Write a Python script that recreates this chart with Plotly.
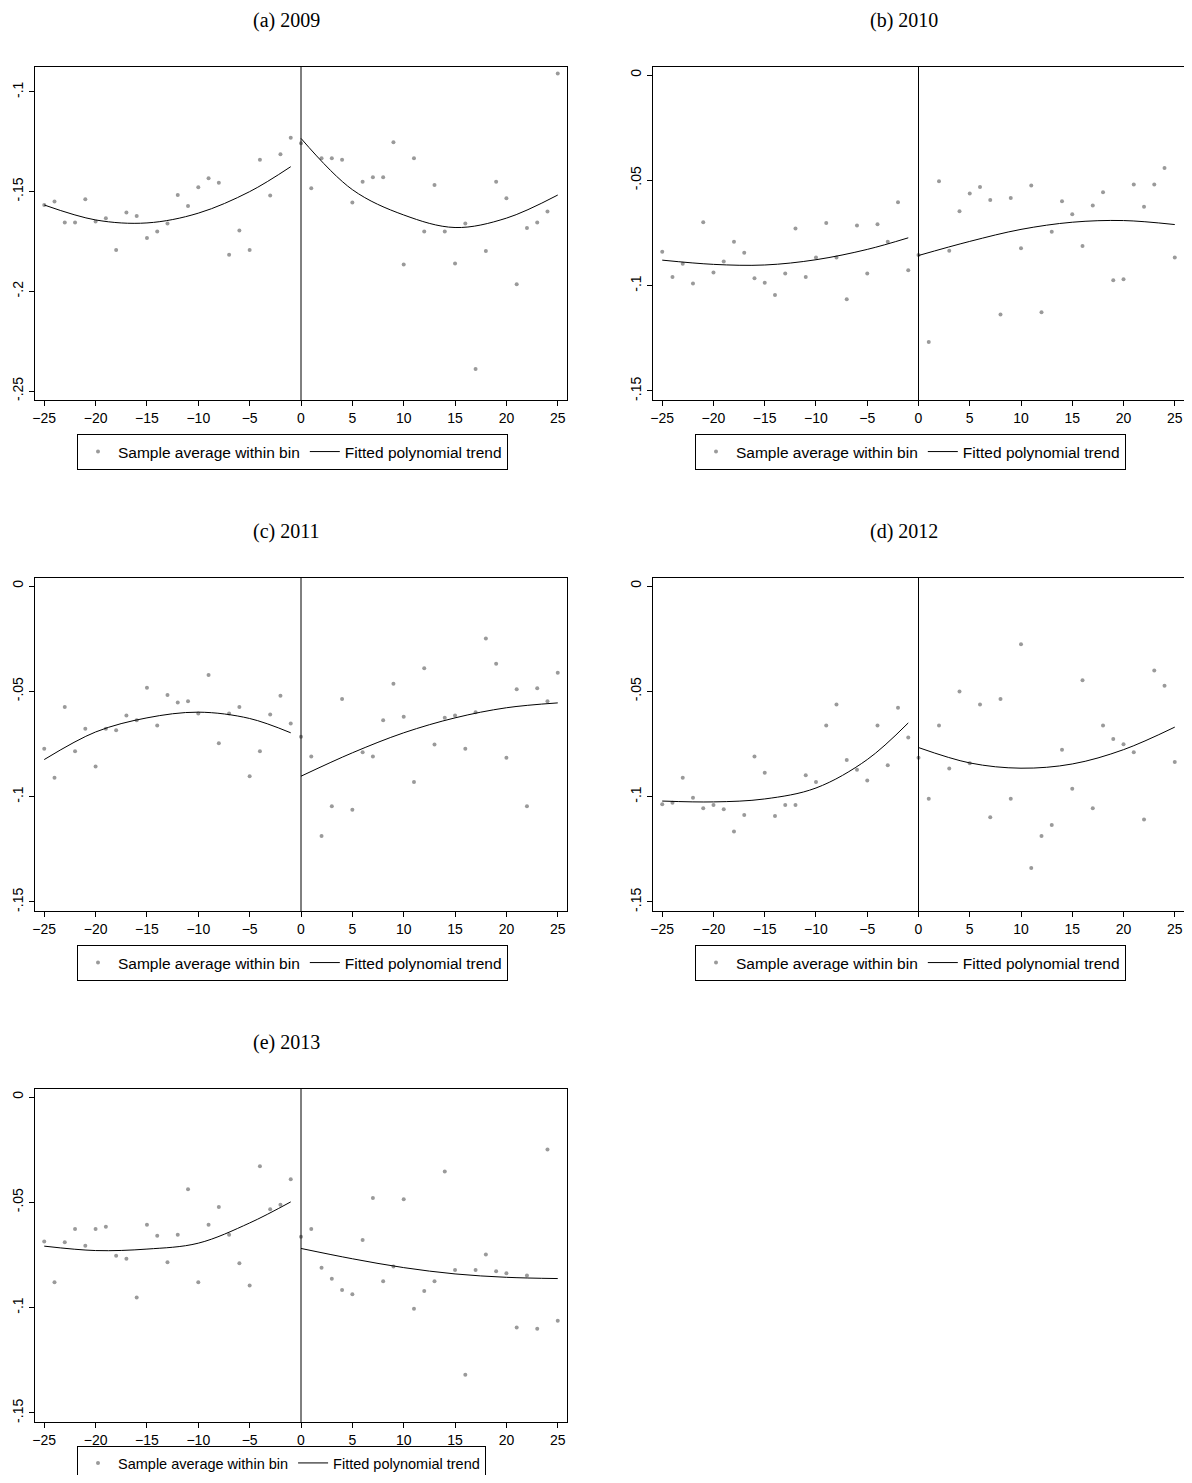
import plotly.graph_objects as go

# bins of the running variable
x_left = list(range(-25, 0))
x_right = list(range(0, 26))
fit_x_left = [-25, -20, -15, -10, -5, -1]
fit_x_right = [0, 5, 10, 15, 20, 25]

titles = ["(a) 2009", "(b) 2010", "(c) 2011", "(d) 2012", "(e) 2013"]

# (a) 2009
a_left = [-0.1567, -0.155, -0.1655, -0.1655, -0.1538, -0.165, -0.1633, -0.1793, -0.1605, -0.1622,
          -0.1733, -0.170, -0.166, -0.1517, -0.1572, -0.1478, -0.1433, -0.1455, -0.1817, -0.1695,
          -0.1793, -0.134, -0.152, -0.1313, -0.123]
a_right = [-0.1257, -0.1483, -0.1333, -0.1333, -0.134, -0.1555, -0.145, -0.1428, -0.1428, -0.1252,
           -0.1865, -0.1333, -0.170, -0.1467, -0.170, -0.186, -0.166, -0.239, -0.1798, -0.145,
           -0.1533, -0.1965, -0.1683, -0.1655, -0.160, -0.0908]
a_fit_left = [-0.1567, -0.1642, -0.1657, -0.1608, -0.150, -0.1375]
a_fit_right = [-0.1233, -0.149, -0.1617, -0.168, -0.1633, -0.1517]

# (b) 2010
b_left = [-0.0839, -0.0959, -0.0896, -0.099, -0.0699, -0.0938, -0.0886, -0.0792, -0.0844, -0.0965,
          -0.0986, -0.1044, -0.0943, -0.0729, -0.0959, -0.0866, -0.0703, -0.0866, -0.1065, -0.0715,
          -0.0943, -0.0708, -0.0792, -0.0604, -0.0927]
b_right = [-0.0855, -0.1268, -0.0505, -0.0834, -0.0647, -0.0563, -0.0532, -0.0593, -0.1137, -0.0584,
           -0.0823, -0.0525, -0.1126, -0.0744, -0.0599, -0.0661, -0.0812, -0.062, -0.0557, -0.0975,
           -0.097, -0.052, -0.0625, -0.052, -0.0442, -0.0866]
b_fit_left = [-0.0879, -0.0899, -0.0902, -0.0877, -0.0828, -0.0773]
b_fit_right = [-0.0857, -0.079, -0.0733, -0.0699, -0.0691, -0.071]

# (c) 2011
c_left = [-0.0773, -0.091, -0.0574, -0.0784, -0.0678, -0.0857, -0.0678, -0.0685, -0.0615, -0.0637,
          -0.0483, -0.0662, -0.0517, -0.0553, -0.0547, -0.0605, -0.0422, -0.0746, -0.0605, -0.0574,
          -0.0903, -0.0784, -0.061, -0.0521, -0.0653]
c_right = [-0.0716, -0.081, -0.1187, -0.1046, -0.0537, -0.1062, -0.0789, -0.081, -0.0637, -0.0464,
           -0.0621, -0.093, -0.039, -0.0753, -0.0626, -0.0615, -0.0773, -0.0599, -0.0249, -0.0369,
           -0.0815, -0.049, -0.1046, -0.0485, -0.0547, -0.0412]
c_fit_left = [-0.0824, -0.0693, -0.0626, -0.0599, -0.0629, -0.0697]
c_fit_right = [-0.0903, -0.0792, -0.0697, -0.0626, -0.0578, -0.0555]

# (d) 2012
d_left = [-0.1036, -0.1029, -0.091, -0.1005, -0.1055, -0.104, -0.106, -0.1166, -0.1087, -0.081,
          -0.0887, -0.1092, -0.104, -0.104, -0.0899, -0.093, -0.0662, -0.0563, -0.0826, -0.0872,
          -0.0924, -0.0662, -0.0851, -0.0578, -0.0719]
d_right = [-0.0815, -0.101, -0.0662, -0.0867, -0.0501, -0.0842, -0.0563, -0.1098, -0.0537, -0.101,
           -0.0276, -0.1339, -0.1187, -0.1135, -0.0778, -0.0962, -0.0448, -0.1055, -0.0662, -0.0726,
           -0.0751, -0.0789, -0.1108, -0.0401, -0.0474, -0.0835]
d_fit_left = [-0.1021, -0.1025, -0.1011, -0.0959, -0.0824, -0.065]
d_fit_right = [-0.0767, -0.084, -0.0865, -0.0845, -0.0777, -0.067]

# (e) 2013
e_left = [-0.0686, -0.0879, -0.069, -0.0627, -0.0706, -0.0627, -0.0616, -0.0754, -0.0768, -0.0952,
          -0.0606, -0.0659, -0.0784, -0.0654, -0.0438, -0.0879, -0.0606, -0.0522, -0.0654, -0.0789,
          -0.0895, -0.0329, -0.0533, -0.0511, -0.039]
e_right = [-0.0663, -0.0627, -0.0811, -0.0863, -0.0916, -0.0937, -0.0679, -0.0479, -0.0875, -0.0805,
           -0.0486, -0.1005, -0.0921, -0.0875, -0.0354, -0.0821, -0.1319, -0.0821, -0.0748, -0.0827,
           -0.0837, -0.1094, -0.0848, -0.11, -0.0249, -0.1062]
e_fit_left = [-0.0708, -0.0729, -0.0722, -0.0694, -0.0598, -0.0498]
e_fit_right = [-0.0719, -0.0768, -0.081, -0.084, -0.0856, -0.0862]

panels = [
    (a_left, a_right, a_fit_left, a_fit_right),
    (b_left, b_right, b_fit_left, b_fit_right),
    (c_left, c_right, c_fit_left, c_fit_right),
    (d_left, d_right, d_fit_left, d_fit_right),
    (e_left, e_right, e_fit_left, e_fit_right),
]

x_ticks = [-25, -20, -15, -10, -5, 0, 5, 10, 15, 20, 25]
y_ticks_a = [-0.25, -0.2, -0.15, -0.1]
y_text_a = ["-.25", "-.2", "-.15", "-.1"]
y_ticks = [-0.15, -0.1, -0.05, 0]
y_text = ["-.15", "-.1", "-.05", "0"]

# the page body adds an 8px margin around the figure
OFF = 8
W, H = 1176, 1467
col_px = [(35, 567), (653, 1185)]
row_px = [(67, 400), (578, 911), (1089, 1422)]


def px_x(p):
    return min(max((p - OFF) / W, 0), 1)


def px_y(p):
    return min(max(1 - (p - OFF) / H, 0), 1)


fig = go.Figure()
layout = dict(width=W, height=H, margin=dict(l=0, r=0, t=0, b=0, autoexpand=False),
              paper_bgcolor="white", plot_bgcolor="white",
              font=dict(family="Liberation Sans", size=14, color="black"),
              annotations=[], shapes=[])

GRAY = "#9a9a9a"
for i, (yl, yr, fl, fr) in enumerate(panels):
    r, c = divmod(i, 2)
    n = "" if i == 0 else str(i + 1)
    xa, ya = "x" + n, "y" + n
    lg = "legend" + n
    x0, x1 = col_px[c]
    y0, y1 = row_px[r]
    fig.add_trace(go.Scatter(x=x_left + x_right, y=yl + yr, mode="markers", xaxis=xa, yaxis=ya,
                             marker=dict(color=GRAY, size=4), name="Sample average within bin",
                             legend=lg))
    fig.add_trace(go.Scatter(x=fit_x_left, y=fl, mode="lines", line=dict(color="black", width=1, shape="spline"),
                             xaxis=xa, yaxis=ya, name="Fitted polynomial trend", legend=lg))
    fig.add_trace(go.Scatter(x=fit_x_right, y=fr, mode="lines", line=dict(color="black", width=1, shape="spline"),
                             xaxis=xa, yaxis=ya, showlegend=False, legend=lg))
    if i == 0:
        yr_rng, tv, tt = [-0.2545, -0.0875], y_ticks_a, y_text_a
    else:
        yr_rng, tv, tt = [-0.1543, 0.0038], y_ticks, y_text
    axis_common = dict(showgrid=False, zeroline=False, showline=True, linecolor="black", linewidth=1,
                       mirror=True, ticks="outside", ticklen=5, tickcolor="black")
    layout["xaxis" + n] = dict(domain=[px_x(x0), px_x(x1)], anchor=ya, range=[-25.9, 25.9],
                               tickvals=x_ticks, **axis_common)
    layout["yaxis" + n] = dict(domain=[px_y(y1), px_y(y0)], anchor=xa, range=yr_rng,
                               tickvals=tv, ticktext=tt, tickangle=-90, **axis_common)
    # last legend sits at the page bottom, nudge it up so its text stays visible
    leg_top = y1 + 34 if i < 4 else y1 + 24
    leg_size = 15.5 if i < 4 else 14.5
    layout[lg] = dict(orientation="h", x=px_x(x0 + 42), y=px_y(leg_top), xanchor="left", yanchor="top",
                      bordercolor="black", borderwidth=1, font=dict(size=leg_size, family="Liberation Sans"),
                      tracegroupgap=0, itemwidth=30)
    layout["shapes"].append(dict(type="line", xref=xa, yref=ya + " domain", x0=0, x1=0, y0=0, y1=1,
                                 line=dict(color="black", width=1)))
    layout["annotations"].append(dict(text=titles[i], xref="paper", yref="paper",
                                      x=px_x((x0 + x1) / 2 - 15), y=px_y(y0 - 47), xanchor="center",
                                      yanchor="middle", showarrow=False,
                                      font=dict(family="Liberation Serif", size=20)))

fig.update_layout(**layout)
fig.write_html("out.html")
